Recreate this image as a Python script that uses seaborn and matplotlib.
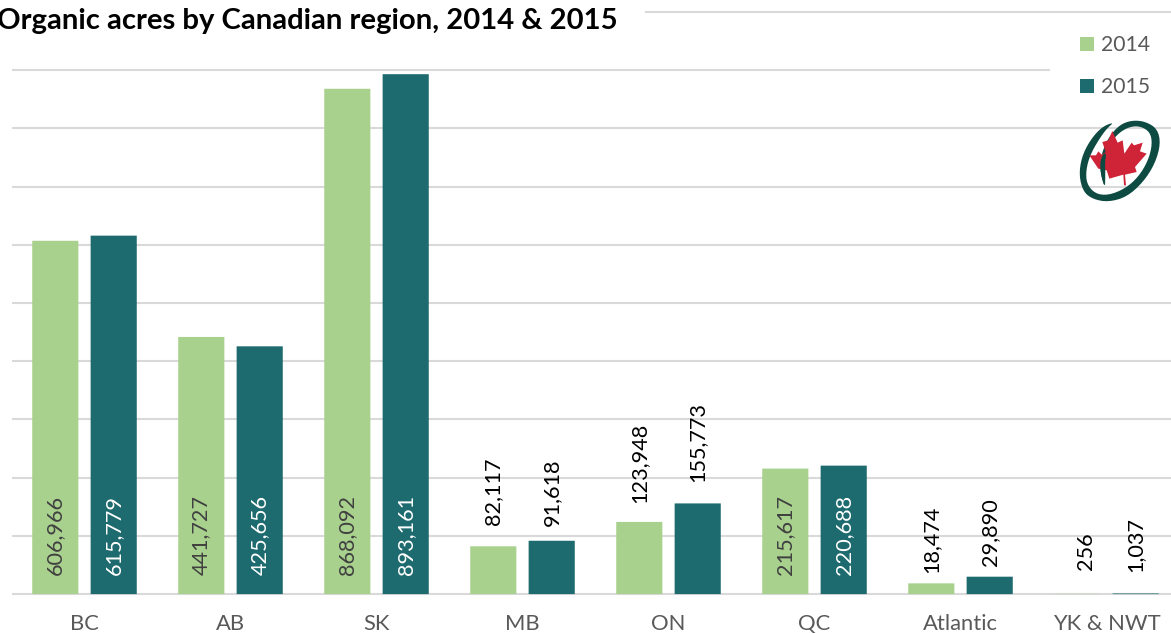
"""Organic acres by Canadian region, grouped bars with logo."""
import matplotlib
matplotlib.use("Agg")
import matplotlib.pyplot as plt
import pandas as pd
import seaborn as sns
from matplotlib.patches import Polygon, Rectangle

regions = ["BC", "AB", "SK", "MB", "ON", "QC", "Atlantic", "YK & NWT"]
acres_2014 = [606966, 441727, 868092, 82117, 123948, 215617, 18474, 256]
acres_2015 = [615779, 425656, 893161, 91618, 155773, 220688, 29890, 1037]
years = ["2014", "2015"]

W, H = 1171, 634
LIGHT = "#A9D18E"
DARK = "#1D6A6F"
GRID = "#D9D9D9"
TICK = "#595959"

# gap in px between bar top and label, for the labels sitting above the bars
outside_gap = {
    "MB": (21, 15),
    "ON": (19, 21),
    "Atlantic": (10, 11),
    "YK & NWT": (24, 21),
}
# the 256 label was dragged sideways in the original
nudge_x = {256: 9}

# logo outlines (crop px, origin at 1070,112, 3x)
LEAF = [(127, 57), (143, 92), (158, 85), (163, 125), (185, 92), (192, 100),
        (218, 92), (210, 118), (230, 125), (195, 165), (200, 180), (165, 188),
        (168, 220), (162, 220), (160, 188), (118, 200), (110, 175), (85, 170),
        (58, 130), (78, 130), (85, 118), (95, 128), (107, 120), (97, 90),
        (115, 85)]
SPIRAL = [(133, 30), (95, 45), (60, 85), (35, 135), (27, 190), (40, 240),
          (70, 262), (115, 270), (170, 255), (220, 210), (255, 155), (272, 95),
          (262, 50), (225, 28), (185, 25), (150, 38), (120, 70), (100, 110),
          (90, 150), (93, 190), (105, 228), (105, 185), (105, 150), (115, 105),
          (140, 68), (175, 45), (210, 42), (240, 60), (247, 95), (235, 145),
          (205, 195), (165, 230), (115, 250), (75, 245), (50, 215), (48, 175),
          (60, 130), (85, 85), (110, 50)]
# lower part of the inner stroke, it runs in front of the leaf
STROKE = [(100, 125), (90, 150), (93, 190), (105, 228), (106, 185), (105, 150),
          (109, 125)]


def smooth(pts, rounds=2):
    for _ in range(rounds):
        out = []
        for (x0, y0), (x1, y1) in zip(pts, pts[1:] + pts[:1]):
            out.append((0.75 * x0 + 0.25 * x1, 0.75 * y0 + 0.25 * y1))
            out.append((0.25 * x0 + 0.75 * x1, 0.25 * y0 + 0.75 * y1))
        pts = out
    return pts


def crop_to_fig(pts):
    return [((1070 + x / 3) / W, 1 - (112 + y / 3) / H) for x, y in pts]


def mask(fig, ax, x0, y0, x1, y1):
    # white panel hiding the gridlines behind title and legend
    ax.add_patch(Rectangle((x0 / W, 1 - y1 / H), (x1 - x0) / W, (y1 - y0) / H,
                           transform=fig.transFigure, facecolor="white",
                           edgecolor="none", zorder=1, clip_on=False))


df = pd.DataFrame({
    "region": regions * 2,
    "year": [years[0]] * len(regions) + [years[1]] * len(regions),
    "acres": acres_2014 + acres_2015,
})

sns.set_theme(style="white")
plt.rcParams["font.family"] = ["Lato", "DejaVu Sans"]

fig = plt.figure(figsize=(W / 100, H / 100), dpi=100)
# baseline at y=594 px, 100,000 acres = 58.2 px
ax = fig.add_axes([11.5 / W, (H - 597) / H, (W - 11.5) / W, 592 / H])

sns.barplot(data=df, x="region", y="acres", hue="year", hue_order=years,
            palette=[LIGHT, DARK], width=0.8, gap=0.21, saturation=1,
            linewidth=0, legend=True, ax=ax, zorder=2)

ax.set_xlim(-0.5, (W - 84.5) / 146)
ax.set_ylim(-5000, 589 / 0.000582)
ax.set_yticks(range(0, 1000001, 100000))
ax.tick_params(axis="y", left=False, labelleft=False)
ax.tick_params(axis="x", bottom=False, labelsize=15.8, labelcolor=TICK, pad=6)
ax.set_xlabel("")
ax.set_ylabel("")
ax.grid(axis="y", color=GRID, linewidth=1.5)
ax.set_axisbelow(True)
sns.despine(ax=ax, left=True, bottom=True)

mask(fig, ax, 0, 0, 645, 45)
mask(fig, ax, 1050, 20, W, 110)

for k, container in enumerate(ax.containers):
    inside_color = "white" if k == 1 else "#404040"
    for region, bar in zip(regions, container):
        bar.set_snap(False)
        value = bar.get_height()
        cx = bar.get_x() + bar.get_width() / 2
        if region in outside_gap:
            y, off, color = value, outside_gap[region][k], "black"
        else:
            y, off, color = 0, 19, inside_color
        ax.annotate(f"{value:,.0f}", (cx, y), xytext=(nudge_x.get(value, 0), off),
                    textcoords="offset pixels", rotation=90, ha="center",
                    va="bottom", fontsize=15.6, color=color, zorder=3)

fig.text(-3 / W, 1 - 21 / H, "Organic acres by Canadian region, 2014 & 2015",
         fontsize=21.1, fontweight="bold", color="black", va="center", ha="left")

ax.legend(loc="upper left", bbox_to_anchor=(1074 / W, 1 - 29 / H),
          bbox_transform=fig.transFigure, frameon=False, fontsize=15.2,
          labelcolor=TICK, handlelength=0.66, handleheight=0.66,
          handletextpad=0.3, labelspacing=1.03, borderpad=0.3, borderaxespad=0)

fig.add_artist(Polygon(crop_to_fig(smooth(SPIRAL)), closed=True,
                       facecolor="#0C4A42", edgecolor="none",
                       transform=fig.transFigure))
fig.add_artist(Polygon(crop_to_fig(LEAF), closed=True, facecolor="#CF2338",
                       edgecolor="none", transform=fig.transFigure))
fig.add_artist(Polygon(crop_to_fig(smooth(STROKE, 1)), closed=True,
                       facecolor="#0C4A42", edgecolor="none",
                       transform=fig.transFigure))

fig.savefig("out.png", dpi=100)
